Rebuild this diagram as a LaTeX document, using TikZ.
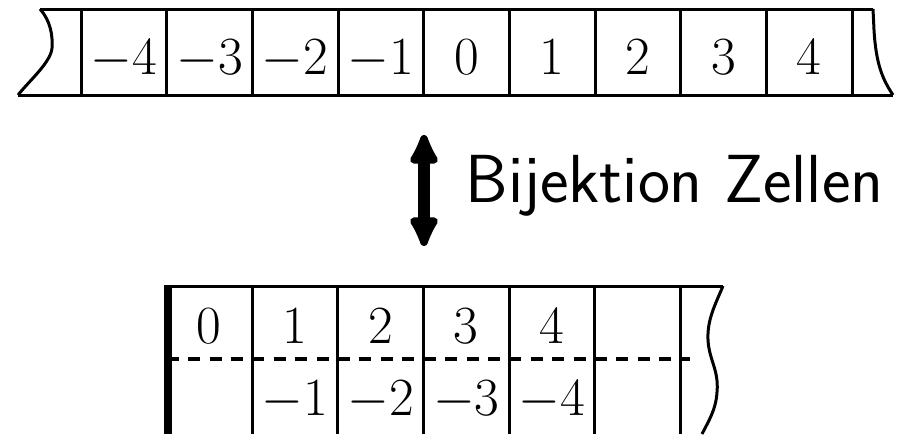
\RequirePackage{fix-cm}
\documentclass[tikz,border=0pt]{standalone}
\usetikzlibrary{arrows.meta}
\begin{document}
\begin{tikzpicture}[x=0.4pt,y=-0.4pt,
  tape/.style={line width=1.2pt,line join=round},
  cellnum/.style={anchor=base,inner sep=0pt,font=\fontsize{21.5}{25}\selectfont},
  sep/.style={line width=1.4pt,dash pattern=on 4.8pt off 3.8pt},
  bij/.style={line width=4.6pt,{Latex[length=15pt,width=14pt,round]}-{Latex[length=15pt,width=14pt,round]}}]
\useasboundingbox (0,0) rectangle (897,434);

% ---- two-way infinite tape (cells -4 ... 4)
\draw[tape] (40,9) -- (873,9);
\draw[tape] (18,95) -- (893,95);
\draw[tape] (40,9) .. controls (50,20) and (53,35) .. (52,48)
            .. controls (51,62) and (30,80) .. (18,95);
\draw[tape] (873,9) -- (874,30) .. controls (876,65) and (883,80) .. (893,95);
\foreach \k in {0,...,9}
  \draw[tape] ({81+85.67*\k},9) -- ({81+85.67*\k},95);
\foreach \v [count=\k from 0] in {-4,-3,-2,-1,0,1,2,3,4}
  \node[cellnum] (t\k) at ({123.8+85.67*\k},74) {$\v$};

% ---- bijection arrow and label
\coordinate (arrtop) at (424,135);
\coordinate (arrbot) at (424,246);
\draw[bij] (arrtop) -- (arrbot);
\node[anchor=base west,inner sep=0pt,font=\fontsize{27.2}{32}\selectfont\sffamily] (lbl) at (465,202) {Bijektion Zellen};

% ---- one-way infinite tape with two tracks
\draw[tape] (166.5,286) -- (723,286);
\draw[line width=3.2pt] (167.5,284.5) -- (167.5,434);
\foreach \k in {1,...,6}
  \draw[tape] ({166.5+85.67*\k},286) -- ({166.5+85.67*\k},434);
\draw[tape] (723,286) .. controls (715,305) and (707,320) .. (708,340)
            .. controls (709,360) and (719,370) .. (717,392)
            .. controls (716,410) and (708,422) .. (702,434);
\foreach \k in {0,...,5}
  \draw[sep] ({166.5+85.67*\k},359) -- ({166.5+85.67*(\k+1)},359);
\draw[sep] (680.5,359) -- (690,359);
\foreach \v [count=\k from 0] in {0,1,2,3,4}
  \node[cellnum] (u\k) at ({209.3+85.67*\k},343) {$\v$};
\foreach \v [count=\k from 1] in {-1,-2,-3,-4}
  \node[cellnum] (l\k) at ({209.3+85.67*\k},415) {$\v$};
\end{tikzpicture}
\end{document}
